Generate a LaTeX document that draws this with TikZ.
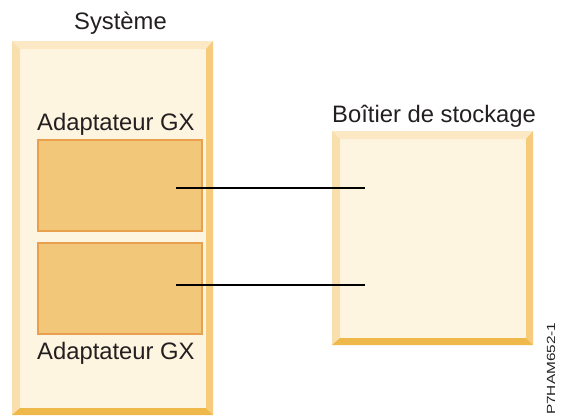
\documentclass[tikz,border=0pt]{standalone}
\usepackage{fontspec}
\setmainfont{Liberation Sans}
\usepackage{graphicx}

\definecolor{facecol}{HTML}{FEF5E1}
\definecolor{topcol}{HTML}{FDE8C5}
\definecolor{leftcol}{HTML}{FADFAE}
\definecolor{rightcol}{HTML}{F6CB7C}
\definecolor{bottomcol}{HTML}{EFB84B}
\definecolor{cardfill}{HTML}{F2C77A}
\definecolor{cardedge}{HTML}{E8A04E}
\definecolor{textcol}{HTML}{231F20}

% Bevelled panel: #1,#2 = top-left corner, #3,#4 = bottom-right corner
\newcommand\bevelpanel[4]{%
  \fill[facecol] (#1,#2) rectangle (#3,#4);
  \fill[topcol] (#1,#2) -- (#3,#2) -- (#3-7,#2+8) -- (#1+8,#2+8) -- cycle;
  \fill[leftcol] (#1,#2) -- (#1+8,#2+8) -- (#1+8,#4-7) -- (#1,#4) -- cycle;
  \fill[rightcol] (#3,#2) -- (#3,#4) -- (#3-7,#4-7) -- (#3-7,#2+8) -- cycle;
  \fill[bottomcol] (#1,#4) -- (#1+8,#4-7) -- (#3-7,#4-7) -- (#3,#4) -- cycle;
}

\tikzset{
  label23/.style={font=\fontsize{23.8}{28}\selectfont, text=textcol, inner sep=0pt, anchor=base west},
  card/.style={draw=cardedge, fill=cardfill, line width=2pt, inner sep=0pt,
               minimum width=164pt, minimum height=91pt},
  link/.style={draw=black, line width=1.1pt}
}

\begin{document}
\begin{tikzpicture}[x=1pt, y=-1pt]
  \useasboundingbox (0,0) rectangle (561,416);

  % system enclosure and storage enclosure
  \bevelpanel{12}{41}{213}{415}
  \bevelpanel{332}{131}{533}{345}

  % adapters
  \node[card] (adA) at (120,185.5) {};
  \node[card] (adB) at (120,288) {};

  % labels
  \node[label23] (sys) at (74,29) {Système};
  \node[label23] (labA) at (37,130.5) {Adaptateur GX};
  \node[label23] (labB) at (37,359) {Adaptateur GX};
  \node[label23] (box) at (332,122) {Boîtier de stockage};
  \node[font=\fontsize{11.8}{13}\selectfont, text=textcol, inner sep=0pt,
        anchor=base west, rotate=90] (fig) at (555,415)
        {\scalebox{1.3}[1]{P7HAM652-1}};

  % cable ends
  \coordinate (cA) at (176,188);
  \coordinate (sA) at (365,188);
  \coordinate (cB) at (176,285);
  \coordinate (sB) at (365,285);

  % cables
  \draw[link] (cA) -- (sA);
  \draw[link] (cB) -- (sB);
\end{tikzpicture}
\end{document}
